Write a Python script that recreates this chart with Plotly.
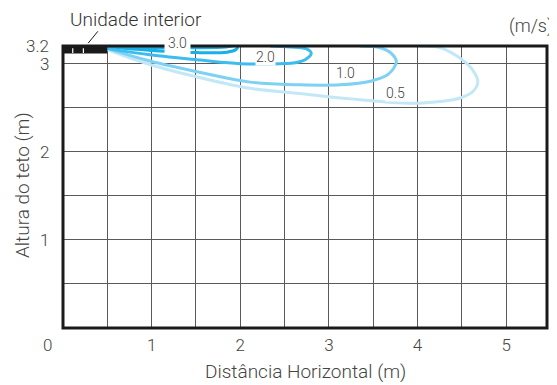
import plotly.graph_objects as go

# ---- data ----
speed_labels = ["3.0", "2.0", "1.0", "0.5"]
line_colors = ["#17b0e8", "#3dbdee", "#7dd1f3", "#c2e8f8"]

x_30 = [0.50, 1.00, 1.50, 1.85, 1.95, 1.97, 1.80, 1.20, 0.50]
y_30 = [3.19, 3.15, 3.125, 3.13, 3.16, 3.20, 3.185, 3.18, 3.19]

x_20 = [0.50, 0.98, 1.55, 2.00, 2.45, 2.62, 2.74, 2.80, 2.74, 2.56, 2.34]
y_20 = [3.17, 3.10, 3.04, 3.00, 3.00, 3.01, 3.05, 3.12, 3.17, 3.19, 3.20]

x_10 = [0.50, 0.98, 1.55, 2.11, 2.67, 3.13, 3.47, 3.67, 3.76, 3.71, 3.58, 3.35]
y_10 = [3.17, 3.03, 2.90, 2.79, 2.76, 2.76, 2.80, 2.88, 3.02, 3.11, 3.18, 3.20]

x_05 = [0.50, 0.98, 1.55, 2.11, 2.67, 3.24, 3.95, 4.25, 4.48, 4.63, 4.68, 4.62, 4.51, 4.37, 4.26, 4.03]
y_05 = [3.16, 2.99, 2.84, 2.72, 2.66, 2.60, 2.55, 2.57, 2.61, 2.69, 2.80, 2.93, 3.04, 3.13, 3.18, 3.20]

x_ticks = [1, 2, 3, 4, 5]
y_ticks = [1, 2, 3, 3.2]
y_tick_text = ["1", "2", "3", "3.2"]

# label positions of the contour values (2.0, 1.0, 0.5 in data units)
label_x = [2.28, 3.19, 3.75]
label_y = [3.07, 2.89, 2.67]

X_MAX = 5.46
Y_MAX = 3.2

series_x = [x_30, x_20, x_10, x_05]
series_y = [y_30, y_20, y_10, y_05]

FONT = "Roboto"
TXT = "#444"
OFF = 8  # page body margin compensation

fig = go.Figure()
for i in reversed(range(4)):
    fig.add_trace(go.Scatter(
        x=series_x[i], y=series_y[i], mode="lines",
        line=dict(color=line_colors[i], width=3, shape="spline", smoothing=1.0),
        hoverinfo="skip", showlegend=False))

grid_col = "#5a5a5a"
fig.update_xaxes(range=[0, X_MAX], tickvals=x_ticks, showgrid=True, gridcolor=grid_col,
                 gridwidth=1.3, zeroline=False, showline=False,
                 ticks="outside", ticklen=2, tickcolor="rgba(0,0,0,0)",
                 tickfont=dict(family=FONT, size=17, color=TXT, weight=300),
                 minor=dict(dtick=0.5, tick0=0, showgrid=True, gridcolor=grid_col, gridwidth=1.3))
fig.update_yaxes(range=[0, Y_MAX], tickvals=y_ticks, showgrid=True,
                 showticklabels=False, gridcolor=grid_col, gridwidth=1.3, zeroline=False, showline=False,
                 minor=dict(tickvals=[0.5, 1.5, 2.5], showgrid=True, gridcolor=grid_col, gridwidth=1.3))

shapes = []
shapes.append(dict(type="rect", xref="x", yref="y", x0=0, x1=0.5, y0=3.115, y1=3.2,
                   fillcolor="#1a1a1a", line=dict(width=0), layer="above"))
for vx in [0.11, 0.23]:
    shapes.append(dict(type="line", xref="x", yref="y", x0=vx, x1=vx, y0=3.12, y1=3.175,
                       line=dict(color="white", width=1.2), layer="above"))
shapes.append(dict(type="rect", xref="paper", yref="paper", x0=0, x1=1, y0=0, y1=1,
                   line=dict(color="#1a1a1a", width=3), fillcolor="rgba(0,0,0,0)", layer="above"))
shapes.append(dict(type="line", xref="paper", yref="paper", x0=0.052, y0=1.010, x1=0.072, y1=1.052,
                   line=dict(color="#1a1a1a", width=1)))

annotations = []
annotations.append(dict(x=0.2376, y=1.011, xref="paper", yref="paper", text=speed_labels[0],
                        showarrow=False, font=dict(family=FONT, size=14, color=TXT, weight=300),
                        bgcolor="white", borderpad=3, xanchor="center", yanchor="middle"))
for i in range(3):
    annotations.append(dict(x=label_x[i], y=label_y[i], xref="x", yref="y", text=speed_labels[i + 1],
                            showarrow=False, font=dict(family=FONT, size=14, color=TXT, weight=300),
                            bgcolor="white", borderpad=0))
# y tick labels
for v, t in zip(y_ticks, y_tick_text):
    annotations.append(dict(x=-0.024, y=v / Y_MAX, xref="paper", yref="paper", text=t,
                            showarrow=False, font=dict(family=FONT, size=17, color=TXT, weight=300),
                            xanchor="right", yanchor="middle"))
annotations.append(dict(x=-0.033, y=-0.06, xref="paper", yref="paper", text="0", showarrow=False,
                        font=dict(family=FONT, size=17, color=TXT, weight=300),
                        xanchor="center", yanchor="middle"))
annotations.append(dict(x=0.5, y=-0.156, xref="paper", yref="paper", text="Distância Horizontal (m)",
                        showarrow=False, font=dict(family=FONT, size=19, color=TXT, weight=300),
                        xanchor="center", yanchor="middle"))
annotations.append(dict(x=-0.0847, y=0.507, xref="paper", yref="paper", text="Altura do teto (m)",
                        showarrow=False, textangle=-90,
                        font=dict(family=FONT, size=19, color=TXT, weight=300),
                        xanchor="center", yanchor="middle"))
annotations.append(dict(x=0.0103, y=1.095, xref="paper", yref="paper", text="Unidade interior",
                        showarrow=False, font=dict(family=FONT, size=19, color="#333", weight=300),
                        xanchor="left", yanchor="middle"))
annotations.append(dict(x=1.0165, y=1.07, xref="paper", yref="paper", text="(m/s)",
                        showarrow=False, font=dict(family=FONT, size=18, color=TXT, weight=300),
                        xanchor="right", yanchor="middle"))

fig.update_layout(width=557 - OFF, height=385 - OFF,
                  margin=dict(l=63 - OFF, r=10, t=46 - OFF, b=57, autoexpand=False),
                  plot_bgcolor="white", paper_bgcolor="white",
                  shapes=shapes, annotations=annotations, showlegend=False)

fig.write_html("out.html")
